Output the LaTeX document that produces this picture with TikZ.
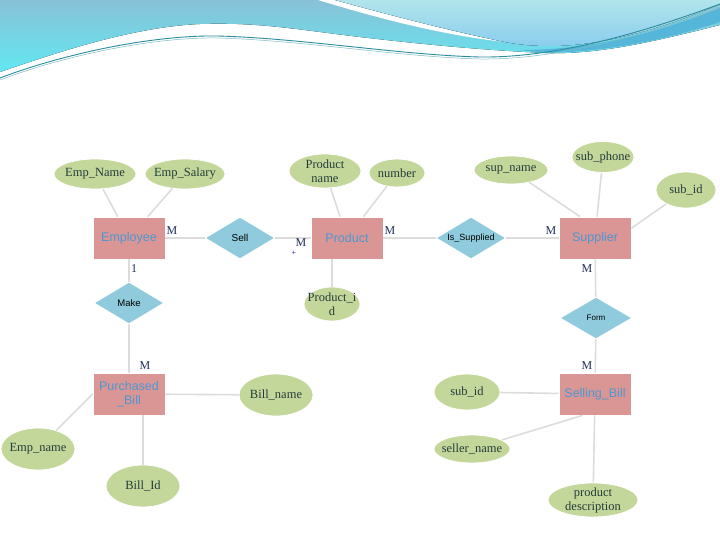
\documentclass[tikz,border=0pt]{standalone}
\usepackage{fontspec}
\setmainfont{Liberation Serif}
\setsansfont{Liberation Sans}
\usetikzlibrary{shapes.geometric}
\definecolor{entfill}{HTML}{D99694}
\definecolor{enttext}{HTML}{4E97D1}
\definecolor{relfill}{HTML}{8FCBDC}
\definecolor{attrfill}{HTML}{C4D79B}
\definecolor{attrtext}{HTML}{243B3A}
\definecolor{linegray}{HTML}{DCDCDC}
\definecolor{cardcol}{HTML}{1F2E5A}
\definecolor{blueA}{HTML}{88C1D7}
\definecolor{cyanA}{HTML}{62E8F2}
\definecolor{paleA}{HTML}{B2E5EB}
\definecolor{paleB}{HTML}{8ACDEE}
\definecolor{bandblue}{HTML}{55B6DA}
\definecolor{tealline}{HTML}{2A8C9C}
\tikzset{
  entity/.style={rectangle, fill=entfill, draw=white, line width=0.8pt,
    minimum width=72pt, minimum height=42pt, inner sep=1pt, align=center,
    font=\sffamily\fontsize{12.5}{14}\selectfont, text=enttext},
  rel/.style={diamond, aspect=1.667, fill=relfill, draw=white, line width=0.8pt,
    minimum width=70pt, minimum height=42pt, inner sep=0pt,
    font=\sffamily\fontsize{9}{10}\selectfont, text=black},
  attr/.style={ellipse, fill=attrfill, draw=white, line width=0.8pt, inner sep=0pt},
  attrlbl/.style={font=\fontsize{12.5}{14}\selectfont, text=attrtext, align=center, inner sep=0pt},
  conn/.style={draw=linegray, line width=1.6pt},
  card/.style={font=\fontsize{12}{13}\selectfont, text=cardcol, inner sep=0pt}
}
\begin{document}
\begin{tikzpicture}[x=1pt,y=-1pt]
\useasboundingbox (0,0) rectangle (720,540);
% ---------- header waves ----------
\fill[top color=blueA, middle color=blueA!75!cyanA, bottom color=cyanA]
  (0,0) -- (720,0) -- (720,25) .. controls (660,40) and (600,55) .. (545,53)
  .. controls (480,50) and (420,44) .. (360,37)
  .. controls (300,30) and (260,22) .. (200,24)
  .. controls (130,27) and (50,55) .. (0,72) -- cycle;
\fill[bandblue] (520,50) .. controls (600,50) and (670,28) .. (720,8)
  -- (720,22) .. controls (665,40) and (605,52) .. (545,53) -- cycle;
\fill[white] (318,0) -- (335,0) .. controls (400,18) and (460,33) .. (505,42)
  .. controls (450,36) and (390,22) .. (318,0) -- cycle;
\fill[top color=paleA, bottom color=paleB]
  (335,0) -- (720,0) -- (720,4) .. controls (660,30) and (600,46) .. (550,46)
  .. controls (530,46) and (515,44) .. (505,42)
  .. controls (460,33) and (400,18) .. (335,0) -- cycle;
\draw[tealline, line width=0.9pt]
  (0,78) .. controls (60,55) and (150,35) .. (217,36)
  .. controls (300,38) and (400,55) .. (480,57)
  .. controls (560,58) and (650,30) .. (720,4);
\draw[tealline!60, line width=0.5pt]
  (0,80) .. controls (60,57) and (150,37) .. (217,38)
  .. controls (300,40) and (400,57) .. (480,59)
  .. controls (560,60) and (650,33) .. (720,8);
% ---------- entities ----------
\node[entity] (employee) at (129,238) {Employee};
\node[entity] (product) at (347,238) {Product};
\node[entity] (supplier) at (595,238) {Supplier};
\node[entity] (pbill) at (129,394) {Purchased\\\_Bill};
\node[entity] (sbill) at (595,394) {Selling\_Bill};
% ---------- relationships ----------
\node[rel, font=\sffamily\fontsize{10}{11}\selectfont] (sell) at (240,238) {Sell};
\node[rel] (issup) at (471,238) {Is\_Supplied};
\node[rel, font=\sffamily\fontsize{9.5}{10}\selectfont] (make) at (129,303) {Make};
\node[rel, minimum width=72pt, font=\sffamily\fontsize{8}{9}\selectfont] (form) at (596,318) {Form};
% ---------- attributes ----------
\node[attr, minimum width=82pt, minimum height=30pt] (empname) at (95,174) {};
\node[attr, minimum width=80pt, minimum height=30pt] (empsal) at (185,174) {};
\node[attr, minimum width=72pt, minimum height=34pt] (prodname) at (325,171) {};
\node[attr, minimum width=56pt, minimum height=28pt] (number) at (397,173) {};
\node[attr, minimum width=56pt, minimum height=34pt] (prodid) at (332,304) {};
\node[attr, minimum width=74pt, minimum height=28pt] (supname) at (511,170) {};
\node[attr, minimum width=62pt, minimum height=31pt] (subphone) at (603,157) {};
\node[attr, minimum width=60pt, minimum height=36pt] (subid) at (686,190) {};
\node[attr, minimum width=74pt, minimum height=42pt] (billname) at (276,395) {};
\node[attr, minimum width=74pt, minimum height=42pt] (empname2) at (38,449) {};
\node[attr, minimum width=74pt, minimum height=42pt] (billid) at (143,486) {};
\node[attr, minimum width=66pt, minimum height=36pt] (subid2) at (467,392) {};
\node[attr, minimum width=76pt, minimum height=28pt] (sellername) at (472,449) {};
\node[attr, minimum width=90pt, minimum height=34pt] (proddesc) at (593,500) {};
\node[attrlbl] (empname-t) at (empname) {Emp\_Name};
\node[attrlbl] (empsal-t) at (empsal) {Emp\_Salary};
\node[attrlbl] (prodname-t) at (prodname) {Product\\name};
\node[attrlbl] (number-t) at (number) {number};
\node[attrlbl] (prodid-t) at (prodid) {Product\_i\\d};
\node[attrlbl] (supname-t) at (supname) {sup\_name};
\node[attrlbl] (subphone-t) at (subphone) {sub\_phone};
\node[attrlbl] (subid-t) at (subid) {sub\_id};
\node[attrlbl] (billname-t) at (billname) {Bill\_name};
\node[attrlbl] (empname2-t) at (empname2) {Emp\_name};
\node[attrlbl] (billid-t) at (billid) {Bill\_Id};
\node[attrlbl] (subid2-t) at (subid2) {sub\_id};
\node[attrlbl] (sellername-t) at (sellername) {seller\_name};
\node[attrlbl] (proddesc-t) at (proddesc) {product\\description};
% ---------- connectors ----------
\draw[conn] (employee) -- (sell);
\draw[conn] (sell) -- (product);
\draw[conn] (product) -- (issup);
\draw[conn] (issup) -- (supplier);
\draw[conn] (employee) -- (make);
\draw[conn] (make) -- (pbill);
\draw[conn] (supplier) -- (form);
\draw[conn] (form) -- (sbill);
\draw[conn] (empname) -- (employee);
\draw[conn] (empsal) -- (employee);
\draw[conn] (prodname) -- (product);
\draw[conn] (number) -- (product);
\draw[conn] (prodid.north) -- (prodid.north |- product.south);
\draw[conn] (supname) -- (supplier.125);
\draw[conn] (subphone) -- (supplier);
\draw[conn] (subid) -- (supplier.15);
\draw[conn] (billname) -- (pbill);
\draw[conn] (empname2) -- (pbill.west);
\draw[conn] (billid.north) -- (billid.north |- pbill.south);
\draw[conn] (subid2) -- (sbill);
\draw[conn] (sellername) -- (sbill.240);
\draw[conn] (proddesc) -- (sbill);
% ---------- cardinalities ----------
\node[card] (c1) at (172,231) {M};
\node[card] (c2) at (134,269) {1};
\node[card] (c3) at (301,243) {M};
\node[card, font=\fontsize{8}{9}\selectfont, text=blue!60!black] (c3p) at (294,253) {+};
\node[card] (c4) at (390,231) {M};
\node[card] (c5) at (551,231) {M};
\node[card] (c6) at (587,269) {M};
\node[card] (c7) at (145,366) {M};
\node[card] (c8) at (587,366) {M};
\end{tikzpicture}
\end{document}
